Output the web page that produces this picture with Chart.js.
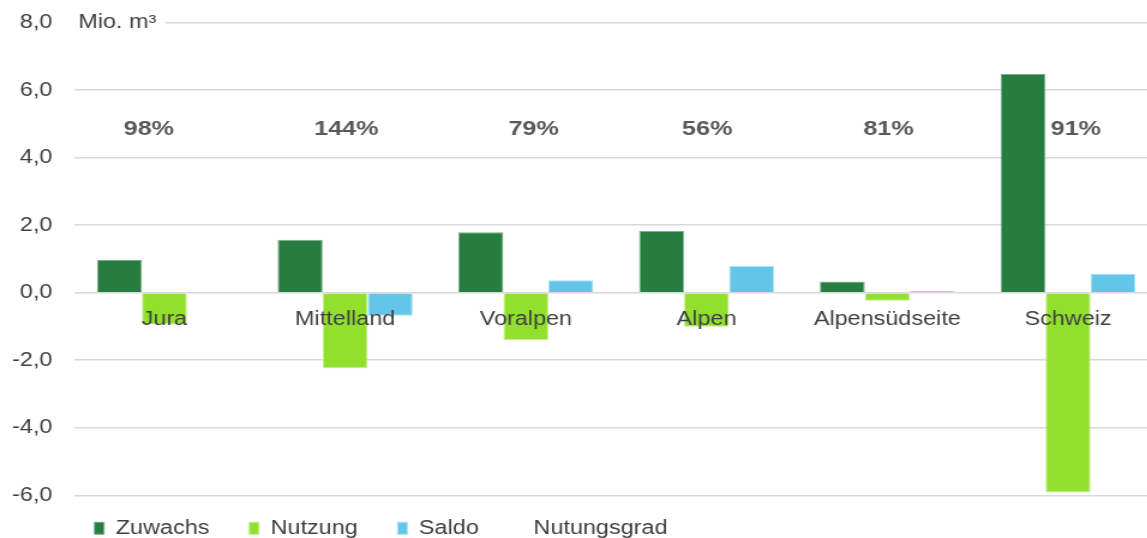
<!DOCTYPE html>
<html><head><meta charset="utf-8">
<script src="https://cdn.jsdelivr.net/npm/chart.js@4.4.1/dist/chart.umd.min.js"></script>
<style>
html,body{margin:0;padding:0;background:#fff;overflow:hidden;}
#wrap{width:1147px;height:538px;overflow:hidden;position:relative;background:#fff;}
#inner{position:absolute;left:0;top:-7px;width:967px;height:555px;transform:scaleX(1.2);transform-origin:0 0;}
canvas{display:block;}
</style></head><body>
<div id="wrap"><div id="inner"><canvas id="c" width="967" height="555" style="width:967px;height:555px"></canvas></div></div>
<script>
const categories = ['Jura', 'Mittelland', 'Voralpen', 'Alpen', 'Alpensüdseite', 'Schweiz'];
const zuwachs = [0.97, 1.57, 1.79, 1.83, 0.33, 6.48];
const nutzung = [-0.94, -2.24, -1.40, -1.01, -0.24, -5.92];
const saldo = [0.02, -0.68, 0.37, 0.79, 0.05, 0.56];
const nutzungsgrad = [98, 144, 79, 56, 81, 91];
const seriesNames = ['Zuwachs', 'Nutzung', 'Saldo', 'Nutungsgrad'];
const yTickValues = [-6, -4, -2, 0, 2, 4, 6, 8];
const unitLabel = 'Mio. m³';

const FONT = "'Liberation Sans', Arial, Helvetica, sans-serif";
Chart.defaults.font.family = FONT;
const TXT = '#404040';
const PCT_LEVEL = 4.85;
const pctLabelShift = [-13, 1, 6.5, 0.5, 1, 6.5];
const legendSpacing = [3, 3, 2, 0];

const unitPlugin = {
  id: 'unitLabel',
  beforeDatasetsDraw(chart) {
    const {ctx, chartArea} = chart;
    const y = chart.scales.y.getPixelForValue(yTickValues[yTickValues.length - 1]);
    ctx.save();
    ctx.fillStyle = '#ffffff';
    ctx.fillRect(chartArea.left - 1, y - 3, 77, 6);
    ctx.fillStyle = TXT;
    ctx.font = '19.5px ' + FONT;
    ctx.textAlign = 'left';
    ctx.textBaseline = 'middle';
    ctx.fillText(unitLabel, chartArea.left + 3.5, y);
    ctx.restore();
  }
};

const pctPlugin = {
  id: 'pctLabels',
  afterDatasetsDraw(chart) {
    const {ctx} = chart;
    const xs = chart.scales.x, ys = chart.scales.y;
    ctx.save();
    ctx.fillStyle = '#595959';
    ctx.font = 'bold 21px ' + FONT;
    ctx.textAlign = 'center';
    ctx.textBaseline = 'middle';
    nutzungsgrad.forEach((v, i) => {
      ctx.fillText(v + '%', xs.getPixelForValue(i) + pctLabelShift[i], ys.getPixelForValue(PCT_LEVEL));
    });
    ctx.restore();
  }
};

new Chart(document.getElementById('c'), {
  type: 'bar',
  data: {
    labels: categories,
    datasets: [
      {label: seriesNames[0], data: zuwachs, backgroundColor: '#277c3f', borderColor: '#7aae87', borderWidth: 1},
      {label: seriesNames[1], data: nutzung, backgroundColor: '#92e02e', borderColor: '#c2ee8c', borderWidth: 1},
      {label: seriesNames[2], data: saldo, backgroundColor: '#63c6e8', borderColor: '#a6def2', borderWidth: 1},
      {type: 'line', label: seriesNames[3], data: nutzungsgrad, yAxisID: 'yPct', showLine: false,
       pointRadius: 0, pointHoverRadius: 0, backgroundColor: 'rgba(0,0,0,0)', borderColor: 'rgba(0,0,0,0)', borderWidth: 0}
    ]
  },
  options: {
    responsive: false,
    animation: false,
    devicePixelRatio: 1,
    layout: {padding: {left: 0, right: 1.7, top: 13.7, bottom: 0}},
    datasets: {bar: {categoryPercentage: 0.747, barPercentage: 1.0}},
    scales: {
      x: {
        type: 'category',
        position: {y: 0},
        grid: {display: false, drawTicks: false},
        border: {display: false},
        ticks: {z: 1, padding: 15, color: TXT, font: {size: 19.5}, maxRotation: 0, autoSkip: false}
      },
      y: {
        min: yTickValues[0],
        max: yTickValues[yTickValues.length - 1],
        afterBuildTicks: s => { s.ticks = yTickValues.map(v => ({value: v})); },
        afterFit: s => { s.width = 61.7; },
        grid: {color: '#d9d9d9', lineWidth: 1.5, drawTicks: false},
        border: {display: false},
        ticks: {padding: 18, color: TXT, font: {size: 19.5},
                callback: v => v.toFixed(1).replace('.', ',')}
      },
      yPct: {display: false, min: 0, max: 200}
    },
    plugins: {
      tooltip: {enabled: false},
      legend: {
        position: 'bottom',
        align: 'start',
        fullSize: false,
        title: {display: true, text: '', padding: {top: 0, bottom: 5}, font: {size: 1.25, lineHeight: 1}},
        labels: {
          boxWidth: 8, boxHeight: 12, padding: 17, color: TXT, font: {size: 19.5},
          generateLabels: chart => Chart.defaults.plugins.legend.labels.generateLabels(chart).map((it, i) => {
            it.text = it.text + ' '.repeat(legendSpacing[i] || 0);
            return it;
          })
        }
      }
    }
  },
  plugins: [unitPlugin, pctPlugin]
});
</script>
</body></html>
